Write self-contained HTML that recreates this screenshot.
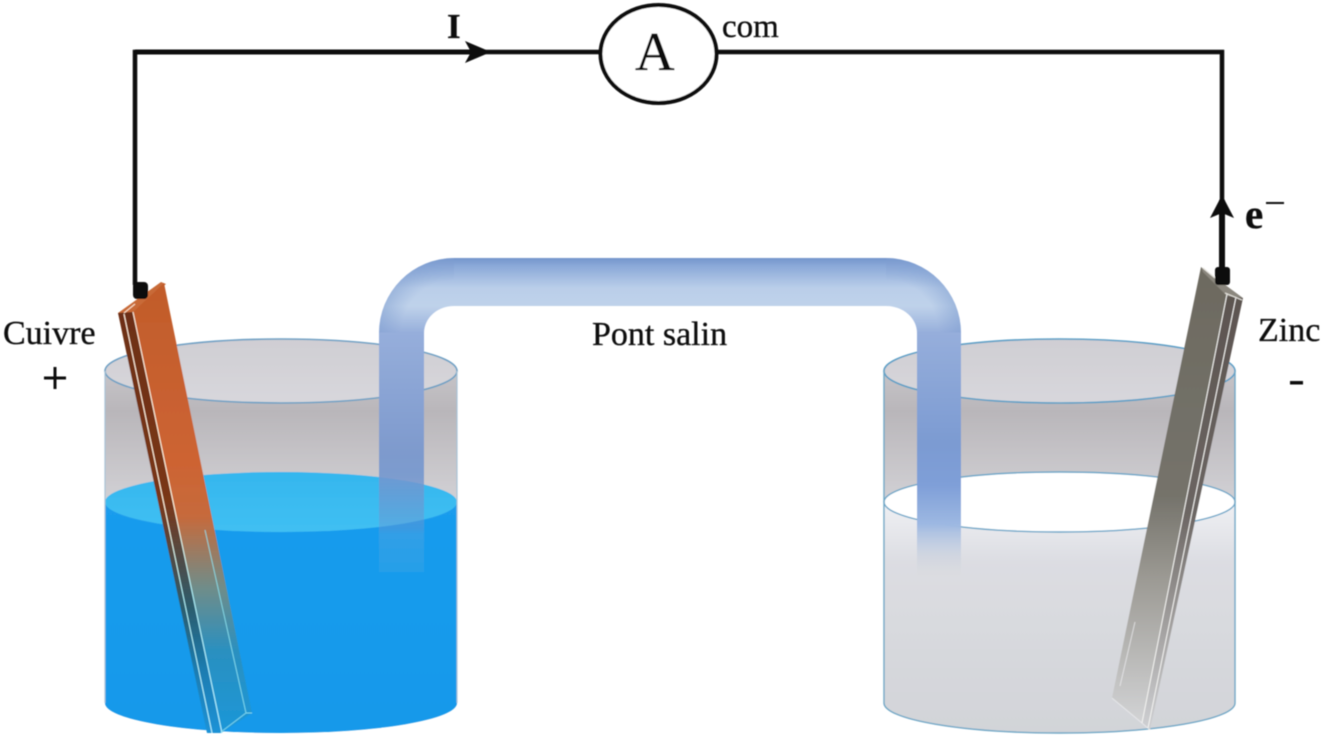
<!DOCTYPE html>
<html><head><meta charset="utf-8"><style>
html,body{margin:0;padding:0;background:#fff;width:1323px;height:738px;overflow:hidden}
svg{display:block}
text{font-family:"Liberation Serif",serif;fill:#111;stroke:#111;stroke-width:.35}
</style></head><body>
<svg width="1323" height="738" viewBox="0 0 1323 738" xmlns="http://www.w3.org/2000/svg">
<defs>
<linearGradient id="glass" x1="0" y1="371" x2="0" y2="505" gradientUnits="userSpaceOnUse"><stop offset="0" stop-color="#c6c4c8"/><stop offset=".3" stop-color="#b9b6ba"/><stop offset="1" stop-color="#d3d2d6"/></linearGradient>
<linearGradient id="back" x1="0" y1="339" x2="0" y2="403" gradientUnits="userSpaceOnUse"><stop offset="0" stop-color="#cfced3"/><stop offset="1" stop-color="#d8d7dc"/></linearGradient>
<linearGradient id="wtop" x1="0" y1="472" x2="0" y2="532" gradientUnits="userSpaceOnUse"><stop offset="0" stop-color="#35b6ee"/><stop offset="1" stop-color="#40c0f3"/></linearGradient>
<linearGradient id="water" x1="0" y1="500" x2="0" y2="733" gradientUnits="userSpaceOnUse"><stop offset="0" stop-color="#1a9ced"/><stop offset="1" stop-color="#1699ea"/></linearGradient>
<linearGradient id="wbody" x1="0" y1="505" x2="0" y2="733" gradientUnits="userSpaceOnUse"><stop offset="0" stop-color="#eeeff3"/><stop offset=".25" stop-color="#dcdde2"/><stop offset="1" stop-color="#d2d4d8"/></linearGradient>
<linearGradient id="tH" x1="0" y1="258" x2="0" y2="333" gradientUnits="userSpaceOnUse"><stop offset="0" stop-color="#7395cb"/><stop offset=".1" stop-color="#8aa8d8"/><stop offset=".4" stop-color="#bacee9"/><stop offset=".64" stop-color="#bfd2ea"/><stop offset="1" stop-color="#96aedb"/></linearGradient>
<radialGradient id="edge1" cx="454" cy="333" r="75" gradientUnits="userSpaceOnUse"><stop offset=".7" stop-color="#7e9dd0" stop-opacity="0"/><stop offset="1" stop-color="#7e9dd0" stop-opacity=".5"/></radialGradient>
<radialGradient id="edge2" cx="886" cy="333" r="75" gradientUnits="userSpaceOnUse"><stop offset=".7" stop-color="#7e9dd0" stop-opacity="0"/><stop offset="1" stop-color="#7e9dd0" stop-opacity=".5"/></radialGradient>
<linearGradient id="tV1" x1="0" y1="333" x2="0" y2="572" gradientUnits="userSpaceOnUse"><stop offset="0" stop-color="#96aedb"/><stop offset=".5" stop-color="#7e9acd"/><stop offset=".6" stop-color="#7497cf" stop-opacity=".9"/><stop offset=".82" stop-color="#6c95d0" stop-opacity=".4"/><stop offset=".84" stop-color="#4aa3e0" stop-opacity=".5"/><stop offset="1" stop-color="#3aa6e3" stop-opacity=".4"/></linearGradient>
<linearGradient id="tV2" x1="0" y1="333" x2="0" y2="578" gradientUnits="userSpaceOnUse"><stop offset="0" stop-color="#96aedb"/><stop offset=".45" stop-color="#7c9bd2"/><stop offset=".62" stop-color="#7f9fd8"/><stop offset=".78" stop-color="#9db8e2"/><stop offset="1" stop-color="#d2d4d8" stop-opacity="0"/></linearGradient>
<linearGradient id="cu" x1="0" y1="283" x2="0" y2="732" gradientUnits="userSpaceOnUse"><stop offset="0" stop-color="#c15c2b"/><stop offset=".4" stop-color="#cd6433"/><stop offset=".52" stop-color="#c66a3c"/><stop offset=".68" stop-color="#6f8d8a"/><stop offset=".82" stop-color="#2a90c0"/><stop offset="1" stop-color="#1c97d8"/></linearGradient>
<linearGradient id="cuS" x1="0" y1="313" x2="0" y2="732" gradientUnits="userSpaceOnUse"><stop offset="0" stop-color="#6d2f18"/><stop offset=".45" stop-color="#7a3719"/><stop offset=".7" stop-color="#2d5c6c"/><stop offset=".85" stop-color="#1a7cb0"/><stop offset="1" stop-color="#1a92d6"/></linearGradient>
<linearGradient id="zn" x1="0" y1="267" x2="0" y2="725" gradientUnits="userSpaceOnUse"><stop offset="0" stop-color="#6d6a60"/><stop offset=".5" stop-color="#75736b"/><stop offset=".68" stop-color="#9c9a94"/><stop offset="1" stop-color="#d3d4d6"/></linearGradient>
<linearGradient id="znS" x1="0" y1="295" x2="0" y2="730" gradientUnits="userSpaceOnUse"><stop offset="0" stop-color="#5c5450"/><stop offset=".5" stop-color="#6c6663"/><stop offset=".75" stop-color="#a09e9d"/><stop offset="1" stop-color="#cfd0d3"/></linearGradient>
<linearGradient id="cuL" x1="0" y1="283" x2="0" y2="732" gradientUnits="userSpaceOnUse"><stop offset="0" stop-color="#ffe9d8"/><stop offset=".5" stop-color="#fff0d8"/><stop offset=".7" stop-color="#a8e8f0"/><stop offset="1" stop-color="#b0f0ff"/></linearGradient>
<filter id="s" x="-5%" y="-5%" width="110%" height="110%"><feGaussianBlur stdDeviation=".6"/></filter>
</defs>

<g filter="url(#s)">
<!-- LEFT BEAKER -->
<path d="M105 371V703A176 30 0 0 0 457 703V371Z" fill="url(#glass)"/>
<ellipse cx="281" cy="371" rx="176" ry="32" fill="url(#back)" stroke="#6ea0c4" stroke-width="1.6"/>
<path d="M105 502V703A176 30 0 0 0 457 703V502Z" fill="url(#water)"/>
<ellipse cx="281" cy="502" rx="176" ry="30" fill="url(#wtop)"/>
<path d="M105 371V703M457 371V703" stroke="#a9c3d6" stroke-width="1.2" fill="none"/>

<!-- RIGHT BEAKER -->
<path d="M884 371V703A175.500 30 0 0 0 1235 703V371Z" fill="url(#glass)"/>
<ellipse cx="1059.500" cy="371" rx="175.500" ry="32" fill="url(#back)" stroke="#5c9fc6" stroke-width="1.6"/>
<path d="M884 502V703A175.500 30 0 0 0 1235 703V502Z" fill="url(#wbody)"/>
<ellipse cx="1059.500" cy="502" rx="175.500" ry="30" fill="#fff" stroke="#6aa6c8" stroke-width="1.4"/>
<path d="M884 371V703A175.500 30 0 0 0 1235 703V371" stroke="#6fa7c6" stroke-width="1.4" fill="none"/>

<!-- SALT BRIDGE -->
<rect x="453" y="258" width="434" height="48" fill="url(#tH)"/>
<path d="M379 333A75 75 0 0 1 454 258V306A30 27 0 0 0 424 333Z" fill="url(#tH)"/>
<path d="M886 258A75 75 0 0 1 961 333H917A31 27 0 0 0 886 306Z" fill="url(#tH)"/>
<path d="M379 333A75 75 0 0 1 454 258V306A30 27 0 0 0 424 333Z" fill="url(#edge1)"/>
<path d="M886 258A75 75 0 0 1 961 333H917A31 27 0 0 0 886 306Z" fill="url(#edge2)"/>
<rect x="379" y="332.500" width="45" height="239.500" fill="url(#tV1)"/>
<rect x="917" y="332.500" width="44" height="245.500" fill="url(#tV2)"/>

<!-- COPPER -->
<path d="M118 313L161 282L166 284L133 313Z" fill="#c86a38"/>
<path d="M118 313L133 312L221 733L207 733Z" fill="url(#cuS)"/>
<path d="M133 312L164 283L252 713L221 733Z" fill="url(#cu)"/>
<path d="M124 314L212 733M133 312L222 733" stroke="url(#cuL)" stroke-width="1.1" fill="none"/>
<path d="M124 313L135 304" stroke="#ffe6cf" stroke-width="1.1"/>
<path d="M205 530L246 713L252 713M221 732L246 713" stroke="#8fe6f4" stroke-width="1" fill="none" opacity=".8"/>

<!-- ZINC -->
<path d="M1227 294L1243 298L1150 730L1142 723Z" fill="url(#znS)"/>
<path d="M1201 267L1227 294L1142 723L1112 698Z" fill="url(#zn)"/>
<path d="M1201 267L1243 298L1227 296L1203 272Z" fill="#8b877e"/>
<path d="M1227 294L1142 723M1236 297L1148 728" stroke="#f4f4f2" stroke-width="1" fill="none"/>
<path d="M1112 698L1142 723L1150 730M1120 686L1135 622" stroke="#f0f0f2" stroke-width="1" fill="none" opacity=".7"/>
<path d="M1203 268L1215 278M1225 293L1242 300" stroke="#e6e4de" stroke-width="1.2"/>

<!-- WIRES -->
<path d="M135 285V52H600M717 52H1222V270" fill="none" stroke="#0a0a0a" stroke-width="4.500"/>
<path d="M135 52H480" stroke="#0a0a0a" stroke-width="5"/>
<path d="M1222 200V270" stroke="#0a0a0a" stroke-width="6"/>
<path d="M465 41L491 52L465 63L471 52Z" fill="#0a0a0a"/>
<path d="M1222 195L1234 218L1222 213L1210 218Z" fill="#0a0a0a"/>
<rect x="133" y="282" width="15" height="17" rx="4" fill="#0a0a0a"/>
<rect x="1215" y="267" width="15" height="18" rx="3" fill="#0a0a0a"/>
<ellipse cx="658.500" cy="54" rx="58" ry="49" fill="#fff" stroke="#0a0a0a" stroke-width="4"/>

<!-- LABELS -->
<text x="635" y="70" font-size="55">A</text>
<text x="447" y="38" font-size="35" font-weight="bold">I</text>
<text x="722" y="37" font-size="33">com</text>
<text x="3" y="344" font-size="34">Cuivre</text>
<text x="592" y="345" font-size="34">Pont salin</text>
<text x="1258" y="341" font-size="34">Zinc</text>
<rect x="44" y="376.500" width="22" height="3" fill="#111"/>
<rect x="53.500" y="367" width="3" height="22" fill="#111"/>
<rect x="1290" y="381" width="13" height="3.500" fill="#111"/>
<text x="1245" y="228" font-size="41" font-weight="bold">e</text>
<rect x="1266" y="202" width="18" height="2" fill="#111"/>
</g>
</svg>
</body></html>
